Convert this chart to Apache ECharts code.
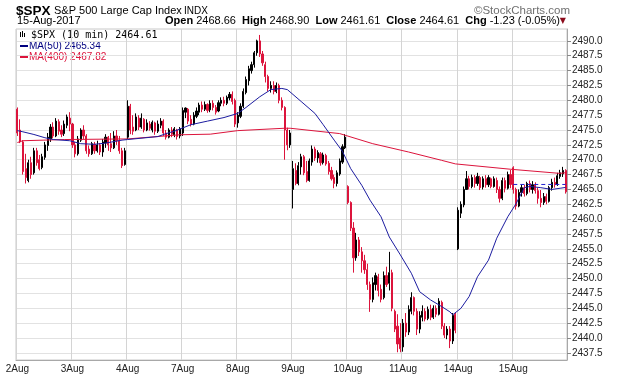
<!DOCTYPE html>
<html>
<head>
<meta charset="utf-8">
<script src="https://cdn.jsdelivr.net/npm/echarts@6/dist/echarts.min.js"></script>
<style>
  html, body { margin: 0; padding: 0; background: #fff; }
  #chart { width: 620px; height: 376px; }
</style>
</head>
<body>
<div id="chart"></div>
<script>
// session labels, 20 bars per session
const days = ['2Aug', '3Aug', '4Aug', '7Aug', '8Aug', '9Aug', '10Aug', '11Aug', '14Aug', '15Aug']
const barsPerDay = 20

// bars: [open, close, low, high]
const aug02 = [
  [2478.5, 2474.5, 2474.0, 2478.8], [2475.0, 2473.0, 2472.8, 2476.8], [2473.0, 2468.0, 2467.5, 2473.3],
  [2468.5, 2467.0, 2466.0, 2471.0], [2466.5, 2469.5, 2466.2, 2470.0], [2469.5, 2467.5, 2466.8, 2470.5],
  [2467.8, 2471.5, 2467.5, 2472.0], [2471.5, 2469.5, 2469.0, 2472.0], [2470.0, 2468.5, 2468.2, 2470.8],
  [2468.7, 2470.5, 2468.4, 2471.0], [2470.4, 2472.5, 2470.0, 2473.0], [2472.4, 2473.8, 2471.5, 2474.5],
  [2473.5, 2475.5, 2473.0, 2476.0], [2475.5, 2474.0, 2473.6, 2476.3], [2474.0, 2476.5, 2473.8, 2477.0],
  [2476.4, 2474.8, 2474.2, 2476.8], [2475.0, 2474.3, 2473.8, 2475.8], [2474.4, 2476.0, 2474.0, 2476.6],
  [2475.8, 2477.2, 2475.3, 2477.6], [2477.0, 2476.0, 2474.8, 2478.0]
]
const aug03 = [
  [2476.0, 2472.5, 2472.0, 2476.2], [2472.5, 2471.0, 2470.4, 2473.0], [2471.0, 2473.5, 2470.7, 2474.0],
  [2473.3, 2475.0, 2473.0, 2475.3], [2475.0, 2474.0, 2473.5, 2475.8], [2474.0, 2471.5, 2471.0, 2474.3],
  [2471.8, 2471.0, 2470.5, 2472.4], [2471.0, 2472.7, 2470.8, 2473.0], [2472.6, 2471.5, 2471.0, 2473.0],
  [2471.5, 2472.5, 2471.2, 2473.2], [2472.5, 2471.3, 2470.8, 2472.8], [2471.3, 2473.0, 2470.5, 2473.5],
  [2472.8, 2473.8, 2472.0, 2474.3], [2473.8, 2472.5, 2471.5, 2474.0], [2472.7, 2472.0, 2471.3, 2474.5],
  [2472.0, 2474.0, 2471.8, 2474.8], [2474.0, 2473.2, 2472.5, 2475.0], [2473.2, 2471.5, 2471.0, 2474.0],
  [2471.5, 2469.0, 2468.6, 2472.0], [2469.2, 2471.5, 2469.0, 2472.0]
]
const aug04 = [
  [2473.8, 2479.0, 2473.5, 2480.0], [2479.0, 2475.0, 2474.3, 2479.4], [2475.5, 2474.8, 2474.2, 2477.5],
  [2475.0, 2477.2, 2474.8, 2477.8], [2477.0, 2475.5, 2475.0, 2477.5], [2475.5, 2477.0, 2475.2, 2477.8],
  [2476.8, 2475.0, 2474.6, 2477.0], [2475.0, 2476.2, 2474.8, 2476.8], [2476.0, 2475.3, 2474.9, 2476.5],
  [2475.0, 2476.3, 2474.6, 2476.6], [2476.2, 2474.8, 2474.2, 2476.4], [2474.8, 2476.0, 2474.5, 2476.6],
  [2475.8, 2476.5, 2475.3, 2477.0], [2476.5, 2474.5, 2474.0, 2476.8], [2474.5, 2473.8, 2473.4, 2475.0],
  [2473.8, 2475.0, 2473.6, 2475.3], [2475.0, 2474.3, 2473.8, 2475.5], [2474.2, 2475.2, 2473.8, 2475.5],
  [2475.0, 2473.9, 2473.4, 2475.2], [2474.0, 2475.2, 2473.6, 2475.5]
]
const aug07 = [
  [2474.5, 2478.3, 2474.0, 2478.8], [2478.0, 2478.7, 2477.0, 2478.8], [2478.5, 2476.5, 2476.0, 2478.7],
  [2476.8, 2476.0, 2475.6, 2477.5], [2476.0, 2477.5, 2475.8, 2478.0], [2477.3, 2478.2, 2477.0, 2478.8],
  [2478.0, 2479.2, 2477.5, 2479.6], [2479.2, 2478.5, 2478.0, 2479.8], [2478.5, 2479.3, 2478.2, 2479.8],
  [2479.3, 2478.3, 2477.9, 2479.5], [2478.4, 2479.5, 2478.0, 2480.0], [2479.5, 2478.8, 2478.3, 2480.0],
  [2478.8, 2478.0, 2477.6, 2479.2], [2478.2, 2479.6, 2478.0, 2480.0], [2479.5, 2480.0, 2479.0, 2480.5],
  [2480.0, 2479.5, 2479.0, 2480.6], [2479.5, 2480.5, 2479.2, 2480.8], [2480.4, 2481.0, 2480.0, 2481.4],
  [2481.0, 2479.8, 2479.3, 2481.5], [2480.0, 2476.0, 2475.5, 2480.3]
]
const aug08 = [
  [2476.2, 2477.5, 2475.4, 2478.0], [2477.3, 2479.0, 2477.0, 2479.5], [2479.0, 2481.5, 2478.7, 2482.0],
  [2481.3, 2483.5, 2481.0, 2484.0], [2483.3, 2485.3, 2482.5, 2485.8], [2485.0, 2486.0, 2484.5, 2486.5],
  [2486.0, 2488.0, 2485.5, 2488.3], [2488.0, 2490.0, 2487.5, 2490.2], [2490.0, 2487.8, 2487.3, 2491.0],
  [2487.8, 2486.3, 2485.8, 2488.3], [2486.0, 2484.0, 2483.0, 2486.5], [2484.0, 2482.0, 2481.5, 2484.3],
  [2482.0, 2482.5, 2481.3, 2483.2], [2482.5, 2481.5, 2481.0, 2483.2], [2481.5, 2482.5, 2481.2, 2483.0],
  [2482.5, 2480.0, 2479.5, 2482.8], [2480.0, 2478.8, 2478.3, 2480.5], [2478.8, 2475.0, 2470.0, 2479.0],
  [2475.0, 2472.5, 2471.6, 2475.4], [2472.5, 2474.5, 2472.0, 2475.0]
]
const aug09 = [
  [2465.0, 2468.5, 2461.8, 2469.8], [2468.2, 2466.0, 2465.7, 2469.4], [2466.0, 2469.0, 2465.7, 2469.6],
  [2468.8, 2470.5, 2467.5, 2471.0], [2470.5, 2467.8, 2467.4, 2470.8], [2468.0, 2466.5, 2466.2, 2469.8],
  [2466.5, 2469.8, 2466.3, 2470.2], [2469.6, 2471.8, 2469.0, 2472.4], [2471.8, 2470.3, 2469.8, 2472.2],
  [2470.3, 2471.2, 2469.5, 2471.6], [2471.0, 2469.5, 2469.0, 2471.3], [2469.5, 2470.8, 2469.2, 2471.2],
  [2470.7, 2469.3, 2469.0, 2471.0], [2469.4, 2468.0, 2467.5, 2469.8], [2468.2, 2466.8, 2466.5, 2468.8],
  [2467.0, 2466.0, 2465.2, 2467.5], [2466.0, 2467.8, 2465.5, 2468.2], [2467.6, 2469.8, 2467.3, 2470.2],
  [2469.6, 2472.2, 2469.3, 2472.6], [2472.0, 2473.8, 2471.8, 2474.3]
]
const aug10 = [
  [2465.5, 2462.8, 2462.5, 2465.7], [2462.8, 2458.5, 2458.0, 2463.0], [2458.5, 2453.5, 2451.0, 2459.5],
  [2453.5, 2456.5, 2453.0, 2457.7], [2456.5, 2454.5, 2453.8, 2457.0], [2454.5, 2453.0, 2451.0, 2455.3],
  [2453.0, 2451.5, 2450.8, 2454.0], [2451.5, 2449.0, 2448.1, 2452.5], [2449.0, 2446.5, 2444.4, 2449.5],
  [2446.5, 2449.3, 2446.0, 2450.2], [2449.0, 2450.5, 2448.0, 2451.0], [2450.3, 2448.0, 2447.0, 2450.8],
  [2448.2, 2446.5, 2446.0, 2449.0], [2446.8, 2450.5, 2446.5, 2451.2], [2450.5, 2449.0, 2448.6, 2452.0],
  [2449.2, 2451.0, 2448.0, 2454.5], [2451.0, 2445.0, 2444.5, 2451.5], [2444.5, 2441.5, 2441.0, 2444.8],
  [2442.0, 2439.0, 2437.6, 2444.0], [2440.0, 2438.2, 2437.6, 2442.5]
]
const aug11 = [
  [2438.5, 2442.5, 2437.7, 2443.2], [2442.5, 2441.0, 2440.2, 2444.2], [2441.0, 2444.8, 2440.5, 2445.5],
  [2444.5, 2446.8, 2444.0, 2447.7], [2446.8, 2444.5, 2443.8, 2447.0], [2444.5, 2441.5, 2440.5, 2445.0],
  [2441.5, 2443.8, 2440.8, 2444.5], [2443.5, 2444.5, 2442.8, 2445.5], [2444.5, 2443.2, 2442.8, 2445.0],
  [2443.3, 2444.8, 2443.0, 2445.3], [2444.8, 2443.5, 2443.0, 2445.6], [2443.5, 2445.0, 2443.2, 2445.5],
  [2445.0, 2444.0, 2443.5, 2445.5], [2444.0, 2446.2, 2443.8, 2446.7], [2446.0, 2442.0, 2441.5, 2446.3],
  [2442.0, 2440.5, 2440.0, 2442.5], [2440.5, 2441.5, 2439.8, 2442.0], [2441.5, 2439.5, 2438.3, 2442.0],
  [2439.5, 2443.8, 2439.0, 2444.2], [2444.0, 2441.3, 2440.8, 2444.3]
]
const aug14 = [
  [2455.0, 2461.5, 2454.8, 2462.0], [2461.0, 2462.5, 2460.2, 2463.0], [2462.4, 2465.0, 2462.0, 2465.5],
  [2465.0, 2466.8, 2465.0, 2468.1], [2466.8, 2465.5, 2465.0, 2467.3], [2465.5, 2467.0, 2465.2, 2467.5],
  [2467.0, 2466.0, 2465.3, 2467.4], [2466.0, 2467.2, 2465.6, 2467.8], [2467.0, 2465.3, 2464.9, 2467.3],
  [2465.4, 2466.8, 2465.0, 2467.2], [2466.8, 2465.8, 2465.3, 2467.4], [2465.8, 2467.0, 2465.4, 2467.4],
  [2466.8, 2465.5, 2465.2, 2467.0], [2465.5, 2466.8, 2465.3, 2467.2], [2466.5, 2465.0, 2464.4, 2467.0],
  [2465.0, 2463.5, 2462.8, 2465.5], [2463.5, 2466.5, 2463.2, 2467.0], [2466.5, 2465.2, 2464.5, 2467.0],
  [2465.2, 2467.5, 2465.0, 2468.0], [2467.5, 2465.84, 2465.2, 2468.3]
]
const aug15 = [
  [2468.66, 2465.0, 2464.3, 2468.9], [2465.0, 2462.2, 2461.61, 2465.3], [2462.2, 2464.5, 2462.0, 2465.0],
  [2464.5, 2465.3, 2463.8, 2465.8], [2465.3, 2464.3, 2463.8, 2465.8], [2464.3, 2466.0, 2464.0, 2466.3],
  [2466.0, 2465.0, 2464.5, 2466.5], [2465.0, 2465.8, 2464.3, 2466.4], [2465.8, 2464.8, 2464.3, 2466.2],
  [2464.8, 2463.5, 2462.6, 2465.3], [2463.5, 2462.8, 2462.0, 2464.9], [2462.8, 2463.8, 2462.4, 2464.4],
  [2463.8, 2463.0, 2462.5, 2464.3], [2463.0, 2465.3, 2462.8, 2465.6], [2465.3, 2466.2, 2464.8, 2466.8],
  [2466.2, 2465.8, 2465.3, 2467.0], [2465.8, 2467.3, 2465.6, 2467.8], [2467.2, 2467.8, 2466.8, 2468.3],
  [2467.6, 2468.2, 2467.1, 2468.8], [2468.2, 2464.61, 2464.3, 2468.4]
]

// moving averages: [bar index, value]
const ma50 = [
  [0, 2474.9], [2, 2474.7], [6, 2474.25], [10, 2473.7], [13, 2473.4], [19, 2473.2], [23, 2472.7],
  [28, 2472.6], [32, 2472.8], [38, 2473.3], [40, 2473.4], [51, 2473.9], [54, 2474.4], [57, 2474.8],
  [63, 2475.9], [69, 2476.5], [75, 2477.1], [80, 2477.8], [83, 2478.8], [88, 2480.6], [92, 2481.8],
  [96, 2482.0], [98, 2481.8], [103, 2479.8], [108, 2477.8], [111, 2475.9], [115, 2473.3], [118, 2471.4],
  [121, 2468.5], [125, 2465.7], [128, 2463.2], [132, 2460.4], [135, 2457.0], [139, 2454.0], [143, 2450.9],
  [146, 2447.8], [150, 2446.4], [154, 2445.3], [157, 2444.4], [158, 2443.9], [161, 2445.0], [164, 2447.0],
  [167, 2450.3], [171, 2453.1], [174, 2456.8], [178, 2460.4], [181, 2462.6], [184, 2465.3], [186, 2465.5],
  [190, 2465.3], [194, 2465.0], [197, 2465.2], [199, 2465.34]
]
const ma400 = [
  [0, 2472.9], [2, 2473.2], [17, 2473.4], [40, 2473.5], [59, 2474.2], [70, 2474.3], [80, 2474.9],
  [97, 2475.3], [99, 2475.3], [117, 2474.4], [129, 2472.7], [142, 2471.3], [154, 2469.9], [159, 2469.3],
  [179, 2468.4], [197, 2467.7], [199, 2467.82]
]
const prevClose = 2465.84
const yTicks = [2437.5, 2440, 2442.5, 2445, 2447.5, 2450, 2452.5, 2455, 2457.5, 2460, 2462.5,
  2465, 2467.5, 2470, 2472.5, 2475, 2477.5, 2480, 2482.5, 2485, 2487.5, 2490]

const sessions = [aug02, aug03, aug04, aug07, aug08, aug09, aug10, aug11, aug14, aug15]
const bars = sessions.flat()
const categories = days.flatMap(d => Array.from({ length: barsPerDay }, (_, j) => j === 0 ? d : d + ' ' + j))
const isDayStart = (index) => index % barsPerDay === 0

const red = '#dc143c'
const navy = '#1c1ca0'
const chart = echarts.init(document.getElementById('chart'))

chart.setOption({
  animation: false,
  backgroundColor: '#fff',
  grid: { left: 16, right: 53, top: 29, bottom: 16, show: true, borderColor: '#c8c8c8', borderWidth: 1 },
  xAxis: {
    type: 'category',
    data: categories,
    boundaryGap: true,
    axisLine: { lineStyle: { color: '#a8a8a8' } },
    axisTick: { interval: isDayStart, length: 3, lineStyle: { color: '#a8a8a8' } },
    axisLabel: {
      interval: isDayStart, formatter: v => v.split(' ')[0],
      color: '#222', fontFamily: 'Liberation Sans', fontSize: 10, margin: 4
    },
    splitLine: { show: true, interval: isDayStart, lineStyle: { color: '#d4d4d4' } }
  },
  yAxis: {
    type: 'value',
    position: 'right',
    min: 2436.3,
    max: 2492,
    scale: true,
    axisLine: { show: true, lineStyle: { color: '#a8a8a8' } },
    axisTick: { show: true, length: 4, customValues: yTicks, lineStyle: { color: '#888' } },
    axisLabel: {
      customValues: yTicks, formatter: v => v.toFixed(1),
      color: '#222', fontFamily: 'Liberation Sans', fontSize: 10, margin: 5
    },
    splitLine: { show: true, lineStyle: { color: '#e2e2e2' } }
  },
  series: [
    {
      type: 'candlestick',
      data: bars,
      barWidth: '60%',
      itemStyle: { color: '#000', color0: red, borderColor: '#000', borderColor0: red, borderWidth: 1 },
      z: 3
    },
    {
      type: 'line', data: ma400, showSymbol: false, symbol: 'none',
      lineStyle: { color: red, width: 1 }, z: 4
    },
    {
      type: 'line', data: ma50, showSymbol: false, symbol: 'none',
      lineStyle: { color: navy, width: 1 }, z: 4
    },
    {
      type: 'line', data: [[180, prevClose], [199, prevClose]], showSymbol: false, symbol: 'none',
      lineStyle: { color: '#2020d0', width: 1, type: [4, 3] }, z: 4
    }
  ],
  graphic: [
    { type: 'text', x: 16, y: 11, style: { text: '$SPX', font: 'bold 13.5px "Liberation Sans"', fill: '#000', verticalAlign: 'middle' } },
    { type: 'text', x: 54, y: 11, style: { text: 'S&P 500 Large Cap Index', font: '11px "Liberation Sans"', fill: '#000', verticalAlign: 'middle' } },
    { type: 'text', x: 184, y: 11, style: { text: 'INDX', font: '10px "Liberation Sans"', fill: '#000', verticalAlign: 'middle' } },
    { type: 'text', x: 570, y: 11, style: { text: '©StockCharts.com', font: '11.5px "Liberation Sans"', fill: '#707070', align: 'right', verticalAlign: 'middle' } },
    { type: 'text', x: 17, y: 21, style: { text: '15-Aug-2017', font: '11px "Liberation Sans"', fill: '#000', verticalAlign: 'middle' } },
    {
      type: 'text', x: 560, y: 21,
      style: {
        text: '{b|Open} 2468.66  {b|High} 2468.90  {b|Low} 2461.61  {b|Close} 2464.61  {b|Chg} -1.23 (-0.05%)',
        font: '11px "Liberation Sans"', fill: '#000', align: 'right', verticalAlign: 'middle',
        rich: { b: { fontWeight: 'bold', fontSize: 11, fontFamily: 'Liberation Sans' } }
      }
    },
    { type: 'text', x: 566, y: 21, style: { text: '▼', font: '8px "DejaVu Sans"', fill: '#8b0a1a', align: 'right', verticalAlign: 'middle' } },
    // legend
    { type: 'rect', shape: { x: 20, y: 32, width: 1, height: 5 }, style: { fill: '#000' } },
    { type: 'rect', shape: { x: 22, y: 31, width: 1, height: 6 }, style: { fill: '#000' } },
    { type: 'rect', shape: { x: 24, y: 33, width: 1, height: 4 }, style: { fill: '#000' } },
    { type: 'text', x: 31, y: 35.5, style: { text: '$SPX (10 min) 2464.61', font: '10px "DejaVu Sans Mono"', fill: '#000', verticalAlign: 'middle' } },
    { type: 'rect', shape: { x: 20, y: 45, width: 8, height: 2 }, style: { fill: '#000080' } },
    { type: 'text', x: 29, y: 46.3, style: { text: 'MA(50) 2465.34', font: '10px "Liberation Sans"', fill: '#000080', verticalAlign: 'middle' } },
    { type: 'rect', shape: { x: 20, y: 56, width: 8, height: 2 }, style: { fill: red } },
    { type: 'text', x: 29, y: 57, style: { text: 'MA(400) 2467.82', font: '10px "Liberation Sans"', fill: red, verticalAlign: 'middle' } }
  ]
})
</script>
</body>
</html>
